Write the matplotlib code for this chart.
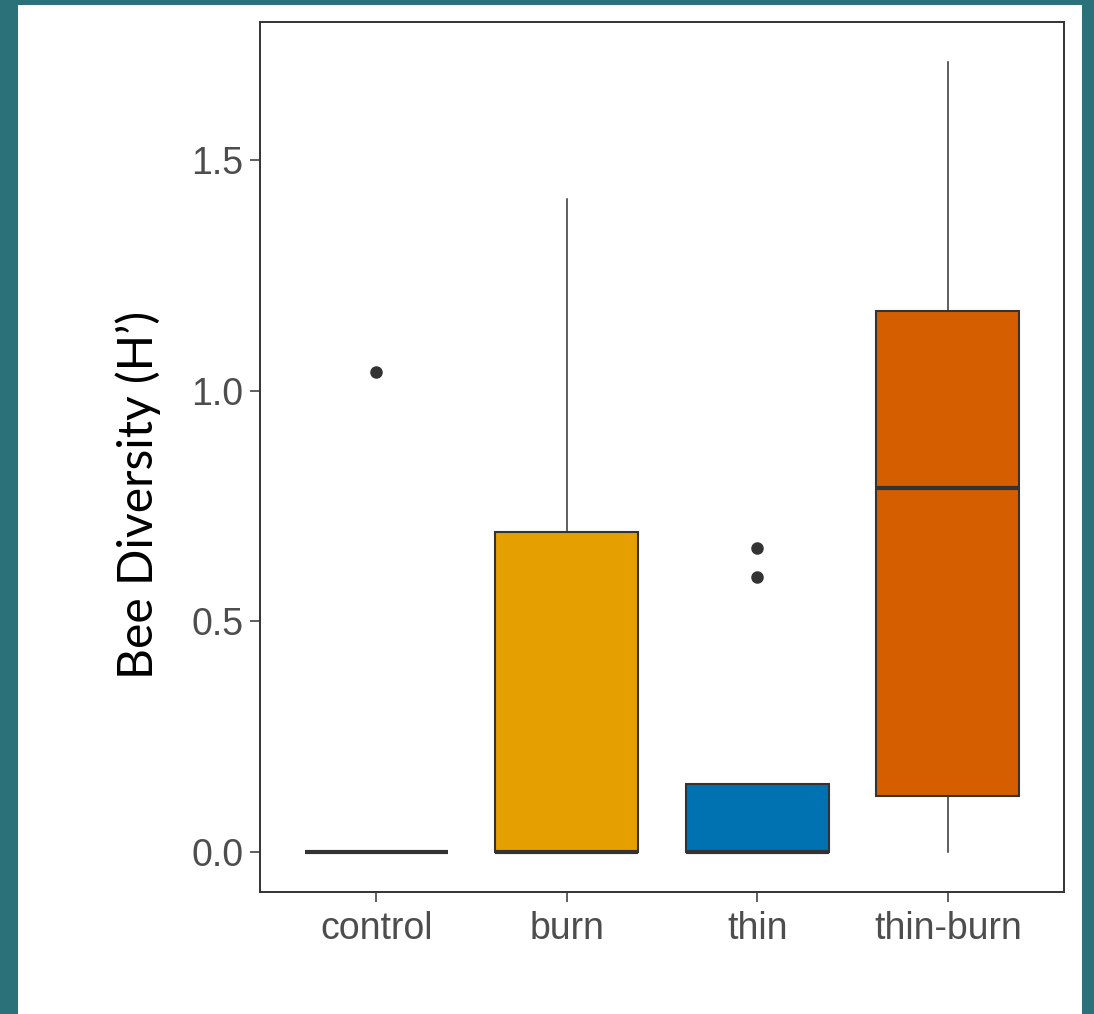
import matplotlib
matplotlib.use("Agg")
import matplotlib.pyplot as plt
from matplotlib.patches import Rectangle

categories = ["control", "burn", "thin", "thin-burn"]
q1 = [0.0, 0.0, 0.0, 0.121]
median = [0.0, 0.0, 0.0, 0.789]
q3 = [0.0, 0.694, 0.147, 1.173]
whisker_low = [0.0, 0.0, 0.0, 0.0]
whisker_high = [0.0, 1.416, 0.147, 1.713]
outliers = [[1.040], [], [0.659, 0.596], []]
fill_colors = ["#FFFFFF", "#E69F00", "#0072B2", "#D55E00"]
yticks = [0.0, 0.5, 1.0, 1.5]
ytick_labels = ["0.0", "0.5", "1.0", "1.5"]

W, H, DPI = 1094, 1014, 100
fig = plt.figure(figsize=(W / DPI, H / DPI), dpi=DPI)
fig.patch.set_facecolor("#2B717A")

bg = fig.add_axes([0, 0, 1, 1], zorder=0)
bg.axis("off")
bg.set_xlim(0, 1)
bg.set_ylim(0, 1)
bg.add_patch(Rectangle((18 / W, 0), (1082 - 18) / W, (H - 5) / H,
                       facecolor="white", edgecolor="none"))

ax = fig.add_axes([260 / W, (H - 892) / H, (1064 - 260) / W, (892 - 22) / H], zorder=2)
ax.set_facecolor("white")

stats = []
for i, c in enumerate(categories):
    stats.append(dict(label=c, q1=q1[i], med=median[i], q3=q3[i],
                      whislo=whisker_low[i], whishi=whisker_high[i],
                      fliers=outliers[i]))

edge = "#333333"
bp = ax.bxp(stats, positions=range(1, len(categories) + 1), widths=0.75,
            patch_artist=True, showcaps=False,
            boxprops=dict(edgecolor=edge, linewidth=1.5),
            medianprops=dict(color=edge, linewidth=3.0, solid_capstyle="butt"),
            whiskerprops=dict(color=edge, linewidth=1.1),
            flierprops=dict(marker="o", markerfacecolor=edge, markeredgecolor=edge,
                            markersize=8))
for patch, col in zip(bp["boxes"], fill_colors):
    patch.set_facecolor(col)

ax.set_xlim(0.39, 4.61)
ax.set_ylim(-0.0867, 1.799)
ax.set_yticks(yticks)
ax.set_yticklabels(ytick_labels)
ax.set_xticks(range(1, len(categories) + 1))
ax.set_xticklabels(categories)

for s in ax.spines.values():
    s.set_color(edge)
    s.set_linewidth(1.4)

ax.tick_params(axis="both", colors=edge, length=7, width=1.1,
               labelcolor="#4D4D4D", labelsize=27)
for lab in ax.get_xticklabels() + ax.get_yticklabels():
    lab.set_family(["Liberation Sans", "DejaVu Sans"])
ax.tick_params(axis="x", pad=7)
ax.tick_params(axis="y", pad=5)

bg.text(138 / W, 1 - 495 / H, "Bee Diversity (H\u2019)", rotation=90,
        ha="center", va="center", fontsize=34.5, color="black",
        family=["Lato", "DejaVu Sans"])

fig.savefig("out.png", dpi=DPI, facecolor=fig.get_facecolor())
